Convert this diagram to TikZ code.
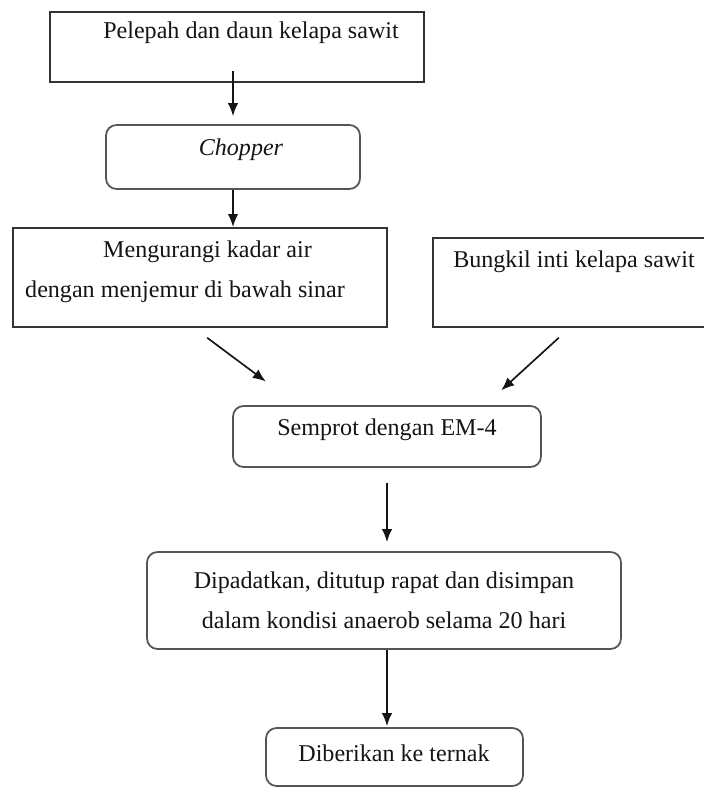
\documentclass[tikz,border=0pt]{standalone}
\usepackage{fontspec}
\setmainfont{Liberation Serif}
\usetikzlibrary{arrows.meta, positioning, calc}
\definecolor{Ink}{HTML}{151515}
\definecolor{Frame}{HTML}{333333}
\definecolor{SoftFrame}{HTML}{555555}

\begin{document}
\begin{tikzpicture}[font=\fontsize{13.7}{23}\selectfont,>=Latex,flow/.style={-{Latex[length=2.6mm,width=2.1mm]}, line width=0.95pt, draw=Ink},plainbox/.style={draw=Frame, line width=1.1pt, inner sep=0pt},softbox/.style={draw=SoftFrame, line width=1pt, rounded corners=6pt, inner sep=0pt},boxtext/.style={text=Ink, inner sep=0pt}]
\useasboundingbox (0,0) rectangle (14.06,15.74);
\fill[white] (0,0) rectangle (14.06,15.74);
% boxes
\node[plainbox, minimum width=7.48cm, minimum height=1.40cm] (pelepah) at (4.74,14.80) {};
\node[softbox, minimum width=5.08cm, minimum height=1.28cm] (chopper) at (4.66,12.60) {};
\node[plainbox, minimum width=7.48cm, minimum height=1.98cm] (kadar) at (4.00,10.19) {};
\node[plainbox, minimum width=5.54cm, minimum height=1.78cm] (bungkil) at (11.43,10.09) {};
\node[softbox, minimum width=6.16cm, minimum height=1.22cm] (semprot) at (7.74,7.01) {};
\node[softbox, minimum width=9.48cm, minimum height=1.94cm] (press) at (7.68,3.73) {};
\node[softbox, minimum width=5.14cm, minimum height=1.16cm] (ternak) at (7.89,0.60) {};
% texts
\node[boxtext] (pelepahtext) at (5.02,15.08) {Pelepah dan daun kelapa sawit};
\node[boxtext] (choppertext) at (4.82,12.74) {\textit{Chopper}};
\node[boxtext] (kadartext) at (4.15,10.70) {Mengurangi kadar air};
\node[boxtext] (jemurtext) at (3.70,9.90) {dengan menjemur di bawah sinar};
\node[boxtext] (bungkiltext) at (11.48,10.50) {Bungkil inti kelapa sawit};
\node[boxtext] (semprottext) at (7.74,7.14) {Semprot dengan EM-4};
\node[boxtext, align=center] (presstext) at (7.68,3.73) {Dipadatkan, ditutup rapat dan disimpan\\dalam kondisi anaerob selama 20 hari};
\node[boxtext] (ternaktext) at (7.88,0.68) {Diberikan ke ternak};
% arrows
\draw[flow, shorten <=-0.24cm, shorten >=0.16cm] (chopper.north |- pelepah.south) -- (chopper.north);
\draw[flow] (chopper.south) -- (chopper.south |- kadar.north);
\draw[flow, shorten <=0.33cm, shorten >=0.79cm] ([xshift=-0.12cm]kadar.south) -- ([xshift=-1.79cm]semprot.north);
\draw[flow, shorten <=0.29cm, shorten >=0.44cm] ([xshift=-0.04cm]bungkil.south) -- ([xshift=1.96cm]semprot.north);
\draw[flow, shorten <=0.30cm, shorten >=0.18cm] (semprot.south) -- (semprot.south |- press.north);
\draw[flow, shorten >=0.02cm] (semprot.south |- press.south) -- (semprot.south |- ternak.north);
\end{tikzpicture}
\end{document}
